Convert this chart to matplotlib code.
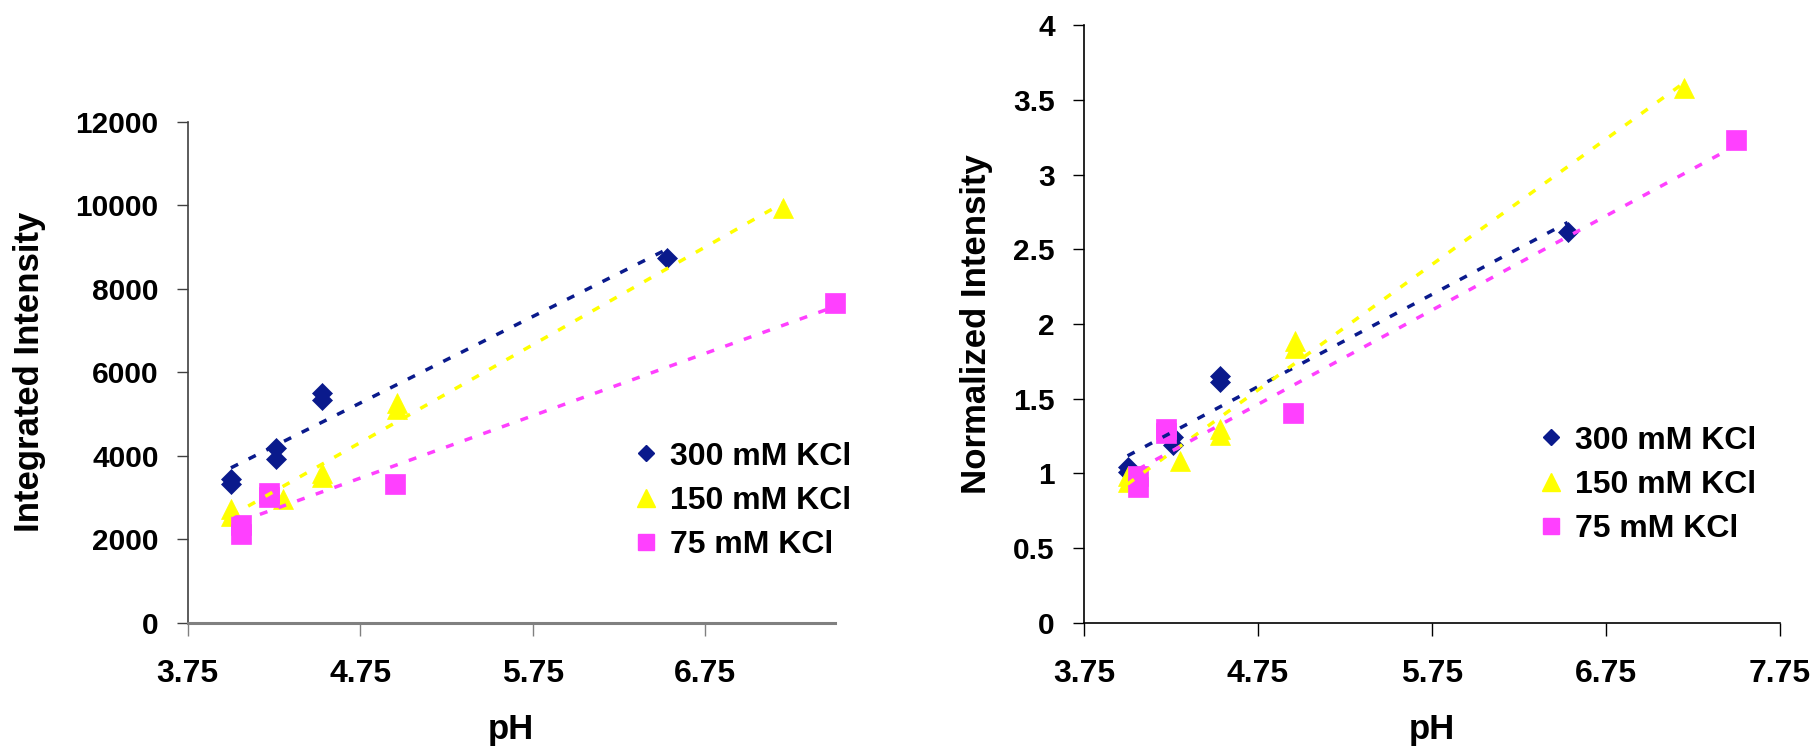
import numpy as np
import matplotlib
matplotlib.use("Agg")
import matplotlib.pyplot as plt
from matplotlib.lines import Line2D

plt.rcParams['font.family'] = ['Liberation Sans', 'DejaVu Sans']
plt.rcParams['font.weight'] = 'bold'

# ---- data ----
series_labels = ["300 mM KCl", "150 mM KCl", "75 mM KCl"]

ph_300 = [4.00, 4.00, 4.26, 4.26, 4.53, 4.53, 6.53]
int_300 = [3450, 3330, 4180, 3930, 5510, 5340, 8730]
norm_300 = [1.04, 1.01, 1.245, 1.19, 1.65, 1.61, 2.615]

ph_150 = [4.00, 4.00, 4.30, 4.53, 4.53, 4.96, 4.96, 7.20]
int_150 = [2720, 2560, 2970, 3580, 3500, 5250, 5120, 9940]
norm_150 = [0.98, 0.94, 1.085, 1.30, 1.26, 1.885, 1.84, 3.58]

ph_75 = [4.06, 4.06, 4.22, 4.22, 4.95, 7.50]
int_75 = [2340, 2120, 3110, 3000, 3320, 7650]
norm_75 = [0.98, 0.91, 1.30, 1.27, 1.405, 3.23]

x_ticks_left = [3.75, 4.75, 5.75, 6.75]
x_ticks_right = [3.75, 4.75, 5.75, 6.75, 7.75]
y_ticks_left = [0, 2000, 4000, 6000, 8000, 10000, 12000]
y_ticks_right = [0, 0.5, 1, 1.5, 2, 2.5, 3, 3.5, 4]
y_ticklabels_right = ["0", "0.5", "1", "1.5", "2", "2.5", "3", "3.5", "4"]

colors = ["#0a1a8c", "#ffff00", "#ff40ff"]
markers = ["D", "^", "s"]
msizes = [9.7, 14.4, 13.7]
leg_msizes = [7.8, 12.5, 11.5]

fig = plt.figure(figsize=(18.18, 7.47), dpi=100)
ax1 = fig.add_axes([0.1033, 0.1665, 0.3559, 0.6706])
ax2 = fig.add_axes([0.5963, 0.1665, 0.3827, 0.7994])

FS_XTICK = 23
FS_YTICK = 21.5
FS_LAB = 25
FS_LEG = 23


def draw(ax, xs_list, ys_list):
    for xs, ys, c, m, ms in zip(xs_list, ys_list, colors, markers, msizes):
        xs = np.asarray(xs, float)
        ys = np.asarray(ys, float)
        ax.plot(xs, ys, linestyle='none', marker=m, markersize=ms,
                markerfacecolor=c, markeredgecolor=c, markeredgewidth=0.5,
                zorder=3, clip_on=False)
        k, b = np.polyfit(xs, ys, 1)
        xl = np.array([xs.min(), xs.max()])
        ax.plot(xl, k * xl + b, color=c, linewidth=2.5, dashes=(2.3, 3.4),
                zorder=4, clip_on=False)


draw(ax1, [ph_300, ph_150, ph_75], [int_300, int_150, int_75])
draw(ax2, [ph_300, ph_150, ph_75], [norm_300, norm_150, norm_75])

# left axes
ax1.set_xlim(3.75, 7.5)
ax1.set_ylim(0, 12000)
ax1.set_xticks(x_ticks_left)
ax1.set_xticklabels([f"{v:.2f}" for v in x_ticks_left])
ax1.set_yticks(y_ticks_left)
ax1.set_yticklabels([str(v) for v in y_ticks_left])

# right axes
ax2.set_xlim(3.75, 7.75)
ax2.set_ylim(0, 4)
ax2.set_xticks(x_ticks_right)
ax2.set_xticklabels([f"{v:.2f}" for v in x_ticks_right])
ax2.set_yticks(y_ticks_right)
ax2.set_yticklabels(y_ticklabels_right)

for ax, xcol, ycol, xlw in [(ax1, '#808080', '#404040', 2.2), (ax2, '#000000', '#000000', 1.2)]:
    for s in ['top', 'right']:
        ax.spines[s].set_visible(False)
    ax.spines['bottom'].set_color(xcol)
    ax.spines['bottom'].set_linewidth(xlw)
    ax.spines['left'].set_color(ycol)
    ax.spines['left'].set_linewidth(1.2)
    ax.tick_params(axis='x', direction='out', length=9, width=1.0, color=xcol,
                   pad=17, labelsize=FS_XTICK)
    ax.tick_params(axis='y', direction='out', length=8, width=1.0, color=ycol,
                   pad=13, labelsize=FS_YTICK)
    for lab in ax.get_xticklabels() + ax.get_yticklabels():
        lab.set_fontweight('bold')
    ax.set_xlabel("pH", fontsize=FS_LAB, fontweight='bold')

# x label positions (figure pixel y ~ 730)
for ax in (ax1, ax2):
    bb = ax.get_position()
    ax.xaxis.set_label_coords(0.5, (1 - 730 / 747 - bb.y0) / bb.height)
    ax.xaxis.label.set_verticalalignment('center')

ax1.set_ylabel("Integrated Intensity", fontsize=FS_LAB, fontweight='bold')
ax2.set_ylabel("Normalized Intensity", fontsize=FS_LAB, fontweight='bold')
b1 = ax1.get_position()
b2 = ax2.get_position()
ax1.yaxis.set_label_coords((30 / 1818 - b1.x0) / b1.width, 0.5)
ax2.yaxis.set_label_coords((977 / 1818 - b2.x0) / b2.width, 0.5)
for ax in (ax1, ax2):
    ax.yaxis.label.set_horizontalalignment('center')
    ax.yaxis.label.set_verticalalignment('center')

handles = [Line2D([], [], linestyle='none', marker=m, markersize=ms,
                  markerfacecolor=c, markeredgecolor=c)
           for c, m, ms in zip(colors, markers, leg_msizes)]

for ax, anchor in [(ax1, (633 / 1818, 1 - 501 / 747)), (ax2, (1538 / 1818, 1 - 485 / 747))]:
    ax.legend(handles, series_labels, loc='center left', bbox_to_anchor=anchor,
              bbox_transform=fig.transFigure, frameon=False,
              handlelength=0.8, handletextpad=0.35, labelspacing=0.45,
              borderpad=0, borderaxespad=0, prop={'weight': 'bold', 'size': FS_LEG})

fig.savefig("out.png", dpi=100)
